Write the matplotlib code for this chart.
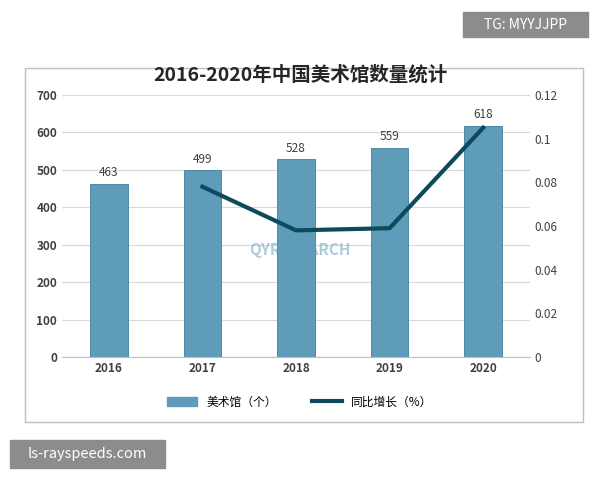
import matplotlib
matplotlib.use("Agg")
import matplotlib.pyplot as plt
from matplotlib.patches import Rectangle
from matplotlib.lines import Line2D

plt.rcParams['font.family'] = ['Noto Sans CJK SC', 'DejaVu Sans']

years = ["2016", "2017", "2018", "2019", "2020"]
counts = [463, 499, 528, 559, 618]
growth_years = ["2017", "2018", "2019", "2020"]
growth = [0.078, 0.058, 0.059, 0.105]

fig = plt.figure(figsize=(6, 4.8), dpi=100)
fig.patches.append(Rectangle((25/600, 1-422/480), 558/600, 354/480, transform=fig.transFigure,
                             fill=False, edgecolor='#bfbfbf', lw=1))
ax = fig.add_axes([62/600, 1-357/480, 468/600, 262/480])
x = list(range(len(years)))
ax.bar(x, counts, width=0.4, color='#5e9cb9', edgecolor='#3f7f9c', lw=0.6, zorder=2)
for i, v in enumerate(counts):
    ax.text(i, v + 12, str(v), ha='center', va='bottom', fontsize=8.5, color='#404040')
ax.set_ylim(0, 700)
ax.set_yticks(range(0, 701, 100))
ax.set_xlim(-0.5, 4.5)
ax.set_xticks(x)
ax.set_xticklabels(years, fontweight='bold', fontsize=8.5)
ax.grid(axis='y', color='#d9d9d9', lw=0.8, zorder=0)
for s in ['top', 'right', 'left']:
    ax.spines[s].set_visible(False)
ax.spines['bottom'].set_color('#bfbfbf')
ax.tick_params(axis='both', length=0, labelsize=8.5, colors='#404040')
for lab in ax.get_yticklabels():
    lab.set_fontweight('bold')

ax2 = ax.twinx()
gx = [years.index(y) for y in growth_years]
ax2.plot(gx, growth, color='#0d4a5c', lw=3, zorder=3)
ax2.set_ylim(0, 0.12)
ax2.set_yticks([0, 0.02, 0.04, 0.06, 0.08, 0.1, 0.12])
ax2.set_yticklabels(['0', '0.02', '0.04', '0.06', '0.08', '0.1', '0.12'])
for s in ['top', 'right', 'left', 'bottom']:
    ax2.spines[s].set_visible(False)
ax2.tick_params(axis='y', length=0, labelsize=8.5, colors='#404040')

fig.text(0.5, 1-75/480, "2016-2020年中国美术馆数量统计", ha='center', va='center',
         fontsize=14, fontweight='bold', color='#262626')

handles = [Rectangle((0, 0), 1, 1, color='#5e9cb9'),
           Line2D([0], [0], color='#0d4a5c', lw=3)]
fig.legend(handles, ["美术馆（个）", "同比增长（%）"], loc='center', bbox_to_anchor=(0.5, 1-402/480),
           ncol=2, frameon=False, fontsize=8.5, handlelength=2.5, columnspacing=3)

fig.text(0.5, 1-250/480, "QYRESEARCH", ha='center', va='center', fontsize=11,
         color='#5e9cb9', alpha=0.5, fontweight='bold')

fig.patches.append(Rectangle((463/600, 1-37/480), 125/600, 25/480, transform=fig.transFigure,
                             color='#8c8c8c'))
fig.text(525/600, 1-25/480, "TG: MYYJJPP", ha='center', va='center', fontsize=10, color='white')
fig.patches.append(Rectangle((10/600, 1-468/480), 155/600, 28/480, transform=fig.transFigure,
                             color='#8c8c8c'))
fig.text(87/600, 1-454/480, "ls-rayspeeds.com", ha='center', va='center', fontsize=10.5, color='white')

fig.savefig("out.png", dpi=100)
